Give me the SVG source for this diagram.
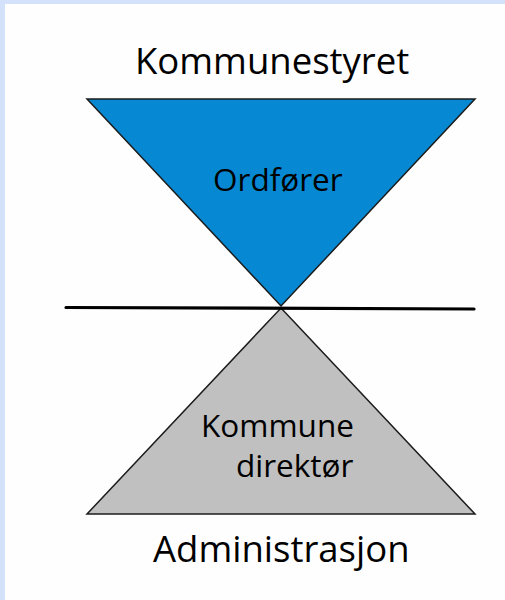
<svg xmlns="http://www.w3.org/2000/svg" width="505" height="600" viewBox="0 0 505 600">
  <style>
    .lbl { font-family: "Open Sans", "Liberation Sans", sans-serif; fill: #000000; }
    .big { font-size: 36.5px; }
    .mid { font-size: 31.5px; }
    .tri { stroke: #1c1c1c; stroke-width: 1.5; stroke-linejoin: miter; }
  </style>
  <rect x="0" y="0" width="505" height="600" fill="#d3e1fb"/>
  <rect x="5" y="4" width="500" height="596" fill="#fefefe"/>

  <g id="kommunestyret">
    <text class="lbl big" x="135" y="74">Kommunestyret</text>
  </g>

  <g id="ordforer">
    <polygon class="tri" points="87,99 475,99 281,306" fill="#0689d2"/>
    <text class="lbl mid" x="213" y="191">Ordfører</text>
  </g>

  <g id="kommunedirektor">
    <polygon class="tri" points="281,308 475,514 87,514" fill="#c0c0c0"/>
    <text class="lbl mid" x="201" y="437">Kommune</text>
    <text class="lbl mid" x="236" y="477">direktør</text>
  </g>

  <g id="administrasjon">
    <text class="lbl big" x="153" y="562">Administrasjon</text>
  </g>

  <g id="connectors">
    <line x1="66" y1="307.5" x2="474" y2="309" stroke="#000000" stroke-width="3.2" stroke-linecap="round"/>
  </g>
</svg>
